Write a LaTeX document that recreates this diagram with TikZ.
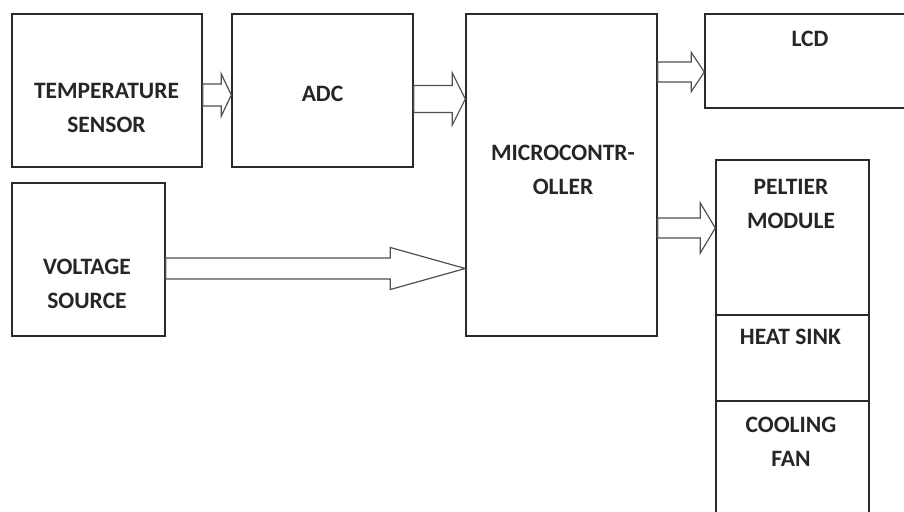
\documentclass[tikz,border=0pt]{standalone}
\usepackage{fontspec}
\setmainfont{Carlito}
\usepackage{tikz}
\usetikzlibrary{calc}
\definecolor{boxLine}{HTML}{2A2A2A}
\definecolor{arrowLine}{HTML}{505050}

\newcommand{\fatArrow}[5]{%
    \draw[arrowOutline] let \p1=(#1), \p2=(#2.west) in
        (\x1,\y1+#3pt) -- (\x2-#5pt,\y1+#3pt) -- (\x2-#5pt,\y1+#4pt) -- (\x2,\y1)
        -- (\x2-#5pt,\y1-#4pt) -- (\x2-#5pt,\y1-#3pt) -- (\x1,\y1-#3pt) -- cycle;
}

\begin{document}
\begin{tikzpicture}[x=1pt, y=-1pt,
    blk/.style={draw=boxLine, line width=1.4pt, rectangle, inner sep=0pt},
    lbl/.style={font=\bfseries\fontsize{23.5}{34}\selectfont, align=center,
                text=black!85, inner sep=0pt},
    arrowOutline/.style={draw=arrowLine, line width=1.2pt, line join=miter}]
    \path[use as bounding box, clip] (0,0) rectangle (904,511);
    \fill[white] (0,0) rectangle (904,511);

    % blocks
    \node[blk, minimum width=190pt, minimum height=153pt] (tsens) at (107,90.5) {};
    \node[blk, minimum width=181pt, minimum height=153pt] (adc) at (322.5,90.5) {};
    \node[blk, minimum width=191pt, minimum height=322pt] (mcu) at (561.5,175) {};
    \node[blk, minimum width=205pt, minimum height=94pt] (lcd) at (807.5,61) {};
    \node[blk, minimum width=153pt, minimum height=153pt] (volt) at (88.5,259.5) {};
    \node[blk, minimum width=153pt, minimum height=155pt] (pelt) at (792.5,237.5) {};
    \node[blk, minimum width=153pt, minimum height=86pt] (sink) at (792.5,358) {};
    \node[blk, minimum width=153pt, minimum height=140pt] (fan) at (792.5,471) {};

    \node[lbl] (tsensTxt) at (106.5,107.5) {TEMPERATURE\\SENSOR};
    \node[lbl] (adcTxt) at (322.5,93.5) {ADC};
    \node[lbl] (mcuTxt) at (563,170) {MICROCONTR-\\OLLER};
    \node[lbl] (lcdTxt) at (810,39) {LCD};
    \node[lbl] (voltTxt) at (87,283.5) {VOLTAGE\\SOURCE};
    \node[lbl] (peltTxt) at (791,204) {PELTIER\\MODULE};
    \node[lbl] (sinkTxt) at (790.5,336.5) {HEAT SINK};
    \node[lbl] (fanTxt) at (791,442) {COOLING\\FAN};

    % block arrows
    \fatArrow{tsens.east |- 0,95}{adc}{11}{21}{10}
    \fatArrow{adc.east |- 0,99}{mcu}{13.5}{26}{13}
    \fatArrow{mcu.east |- 0,72}{lcd}{10}{19.5}{13}
    \fatArrow{mcu.east |- 0,228}{pelt}{10}{25}{15}
    \fatArrow{volt.east |- 0,268.5}{mcu}{10.5}{21}{75}
\end{tikzpicture}
\end{document}
